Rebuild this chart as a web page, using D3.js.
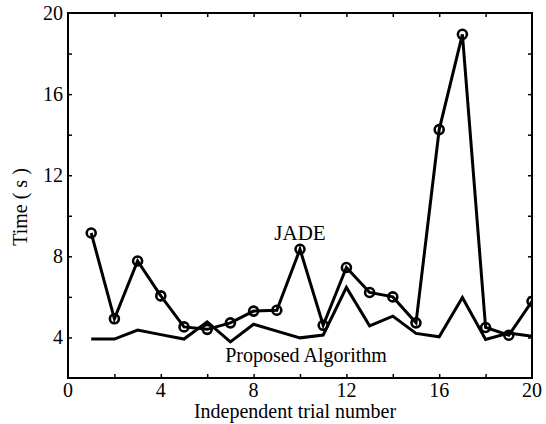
<!DOCTYPE html>
<html>
<head>
<meta charset="utf-8">
<script src="https://cdn.jsdelivr.net/npm/d3@7"></script>
<style>
  html, body { margin: 0; padding: 0; background: #fff; }
  svg text { font-family: "Liberation Serif", "Times New Roman", serif; fill: #000; }
</style>
</head>
<body>
<div id="container"></div>
<script>
// data
const trials = [1, 2, 3, 4, 5, 6, 7, 8, 9, 10, 11, 12, 13, 14, 15, 16, 17, 18, 19, 20];
const jade = [9.15, 4.92, 7.77, 6.05, 4.52, 4.4, 4.72, 5.3, 5.34, 8.35, 4.6, 7.45, 6.22, 6.0, 4.72, 14.25, 18.95, 4.49, 4.11, 5.78];
const proposed = [3.92, 3.92, 4.36, 4.14, 3.92, 4.77, 3.78, 4.65, 4.31, 3.98, 4.12, 6.47, 4.57, 5.05, 4.2, 4.03, 5.97, 3.9, 4.22, 4.06];
const xTicks = [0, 4, 8, 12, 16, 20];
const yTicks = [4, 8, 12, 16, 20];

/*==============================================
  DIMENSIONS
===============================================*/
const margin = { top: 13, right: 14, bottom: 46, left: 68 };
const width = 546 - margin.left - margin.right;
const height = 424 - margin.top - margin.bottom;
const serif = '"Liberation Serif", "Times New Roman", serif';

const canvas = d3.select("#container")
  .append("svg")
  .attr("width", 546)
  .attr("height", 424)
  .attr("font-family", serif);

const g = canvas.append("g")
  .attr("transform", `translate(${margin.left}, ${margin.top})`);

/*==============================================
  SCALES
===============================================*/
const xScale = d3.scaleLinear().domain([0, 20]).range([0, width]);
const yScale = d3.scaleLinear().domain([2, 20]).range([height, 0]);

/*==============================================
  AXES (ticks inside, every 2 units, on all sides)
===============================================*/
const minorX = d3.range(2, 20, 2);
const minorY = d3.range(4, 20, 2);

g.append("g")
  .attr("transform", `translate(0, ${height})`)
  .call(d3.axisTop(xScale).tickValues(minorX).tickSize(4).tickFormat(""));
g.append("g")
  .call(d3.axisBottom(xScale).tickValues(minorX).tickSize(4).tickFormat(""));
g.append("g")
  .call(d3.axisRight(yScale).tickValues(minorY).tickSize(4).tickFormat(""));
g.append("g")
  .attr("transform", `translate(${width}, 0)`)
  .call(d3.axisLeft(yScale).tickValues(minorY).tickSize(4).tickFormat(""));

g.selectAll(".domain").remove();
g.selectAll(".tick line").attr("stroke", "#000").attr("stroke-width", 1.5);

// tick labels
g.selectAll(".xlab")
  .data(xTicks)
  .enter()
  .append("text")
  .attr("x", d => xScale(d))
  .attr("y", height + 19)
  .attr("text-anchor", "middle")
  .style("font-family", serif)
  .style("font-size", "20px")
  .text(d => d);

g.selectAll(".ylab")
  .data(yTicks)
  .enter()
  .append("text")
  .attr("x", -5)
  .attr("y", d => yScale(d))
  .attr("dy", "0.35em")
  .attr("text-anchor", "end")
  .style("font-family", serif)
  .style("font-size", "20px")
  .text(d => d);

// frame
g.append("rect")
  .attr("width", width)
  .attr("height", height)
  .attr("fill", "none")
  .attr("stroke", "#000")
  .attr("stroke-width", 2);

/*==============================================
  LINES
===============================================*/
g.append("clipPath")
  .attr("id", "clip")
  .append("rect")
  .attr("width", width)
  .attr("height", height);

const plot = g.append("g").attr("clip-path", "url(#clip)");

const line = d3.line()
  .x(d => xScale(d[0]))
  .y(d => yScale(d[1]));

plot.append("path")
  .datum(trials.map((t, i) => [t, proposed[i]]))
  .attr("d", line)
  .attr("fill", "none")
  .attr("stroke", "#000")
  .attr("stroke-width", 3)
  .attr("stroke-linejoin", "miter");

plot.append("path")
  .datum(trials.map((t, i) => [t, jade[i]]))
  .attr("d", line)
  .attr("fill", "none")
  .attr("stroke", "#000")
  .attr("stroke-width", 3)
  .attr("stroke-linejoin", "miter");

plot.selectAll(".marker")
  .data(trials.map((t, i) => [t, jade[i]]))
  .enter()
  .append("circle")
  .attr("cx", d => xScale(d[0]))
  .attr("cy", d => yScale(d[1]))
  .attr("r", 4.5)
  .attr("fill", "none")
  .attr("stroke", "#000")
  .attr("stroke-width", 2.6);

/*==============================================
  LABELS
===============================================*/
g.append("text")
  .attr("x", 300 - margin.left)
  .attr("y", 240 - margin.top)
  .attr("text-anchor", "middle")
  .style("font-family", serif)
  .style("font-size", "21px")
  .text("JADE");

g.append("text")
  .attr("x", 306 - margin.left)
  .attr("y", 362 - margin.top)
  .attr("text-anchor", "middle")
  .style("font-family", serif)
  .style("font-size", "20px")
  .text("Proposed Algorithm");

canvas.append("text")
  .attr("x", 295)
  .attr("y", 418)
  .attr("text-anchor", "middle")
  .style("font-family", serif)
  .style("font-size", "20px")
  .text("Independent trial number");

canvas.append("text")
  .attr("transform", "translate(27, 207) rotate(-90)")
  .attr("text-anchor", "middle")
  .style("font-family", serif)
  .style("font-size", "20px")
  .text("Time ( s )");
</script>
</body>
</html>
